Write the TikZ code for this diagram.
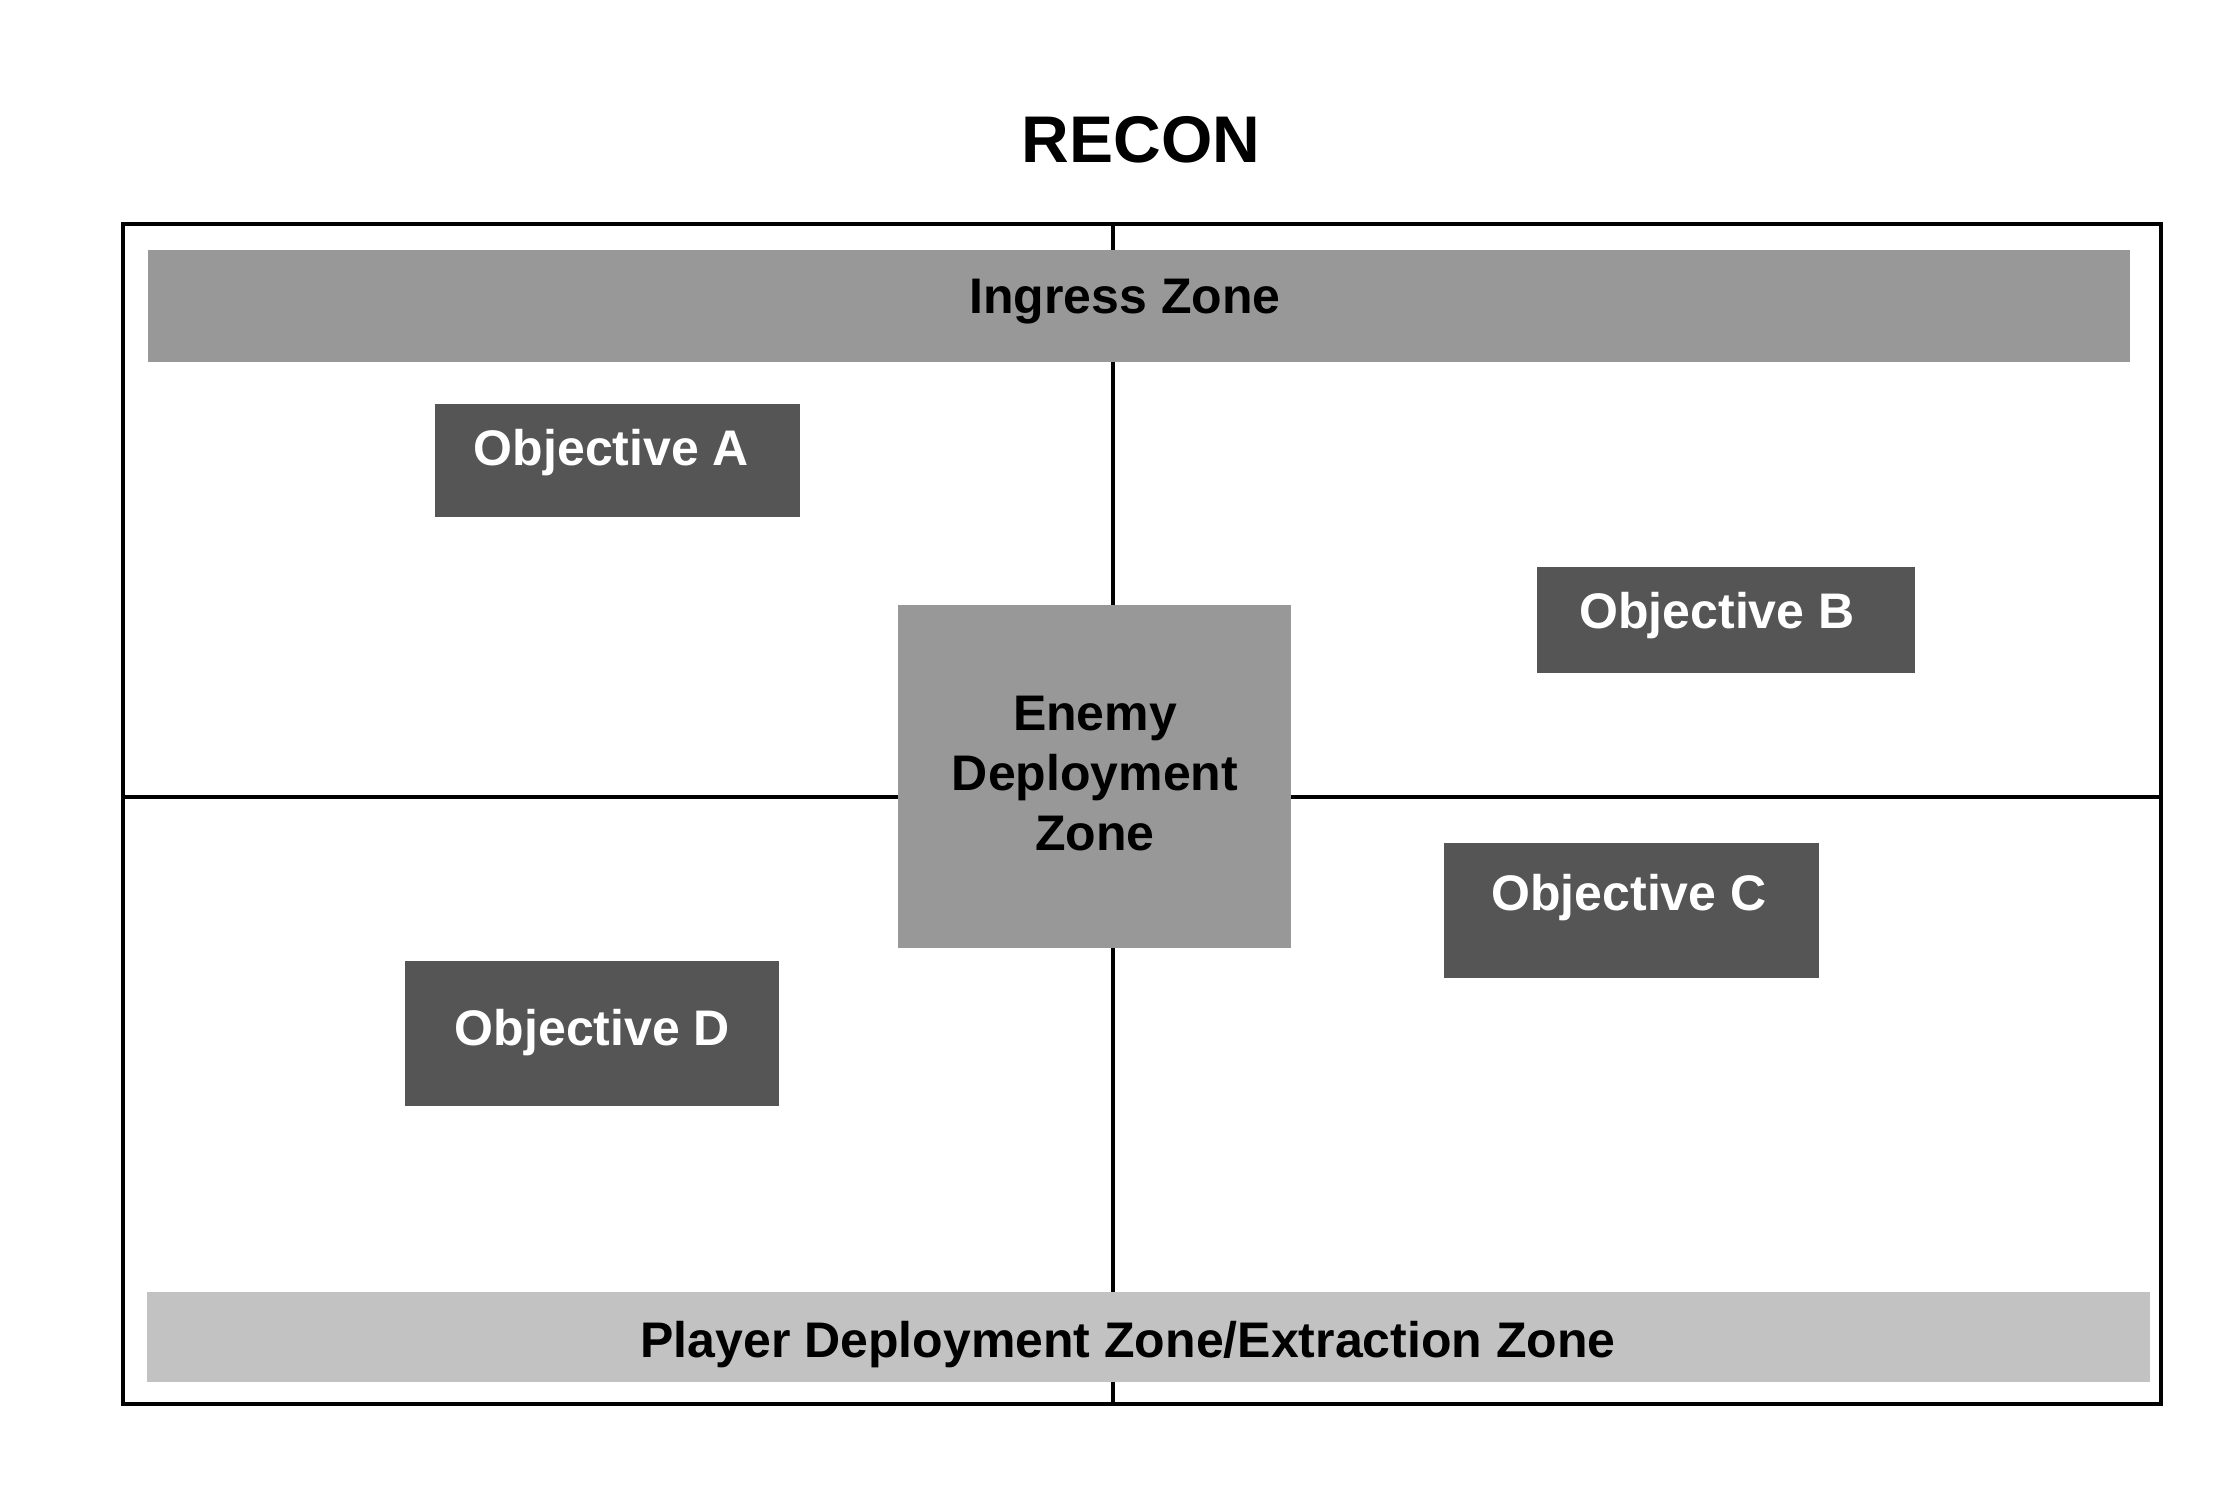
\documentclass[tikz,border=0pt]{standalone}
\usepackage{fontspec}
\setmainfont{Liberation Sans}
\definecolor{zonegray}{HTML}{989898}
\definecolor{objgray}{HTML}{555555}
\definecolor{playergray}{HTML}{C2C2C2}
\begin{document}
\begin{tikzpicture}[x=1pt,y=-1pt,
  frameline/.style={line width=4.5pt,black},
  zonebox/.style={rectangle,fill=zonegray,draw=none,inner sep=0pt,outer sep=0pt},
  objbox/.style={rectangle,fill=objgray,draw=none,inner sep=0pt,outer sep=0pt},
  playerbox/.style={rectangle,fill=playergray,draw=none,inner sep=0pt,outer sep=0pt},
  darktext/.style={anchor=base,inner sep=0pt,font=\fontsize{50}{60}\selectfont\bfseries,text=black},
  lighttext/.style={anchor=base,inner sep=0pt,font=\fontsize{50}{60}\selectfont\bfseries,text=white},
  titletext/.style={anchor=base,inner sep=0pt,font=\fontsize{66}{79}\selectfont\bfseries,text=black}]
\useasboundingbox (0,0) rectangle (2237,1499);
\fill[white] (0,0) rectangle (2237,1499);
% frame
\coordinate (tl) at (123,224);
\coordinate (br) at (2161,1404);
\coordinate (vtop) at (1113,224);
\coordinate (vbot) at (1113,1404);
\coordinate (hl) at (123,797);
\coordinate (hr) at (2161,797);
\draw[frameline] (tl) rectangle (br);
\draw[frameline] (vtop) -- (vbot);
\draw[frameline] (hl) -- (hr);
% title
\node[titletext] (title) at (1141,162) {RECON};
% zones
\node[zonebox,minimum width=1982pt,minimum height=112pt] (ingress) at (1139,306) {};
\node[darktext] (ingresstxt) at (1125,313) {Ingress Zone};
\node[playerbox,minimum width=2003pt,minimum height=90pt] (player) at (1148.5,1337) {};
\node[darktext] (playertxt) at (1128,1357) {Player Deployment Zone/Extraction Zone};
\node[zonebox,minimum width=393pt,minimum height=343pt] (enemy) at (1094.5,776.5) {};
\node[darktext,align=center] (enemytxt) at (1095,850) {Enemy\\Deployment\\Zone};
% objectives
\node[objbox,minimum width=365pt,minimum height=113pt] (obja) at (617.5,460.5) {};
\node[lighttext] (objatxt) at (611.5,465) {Objective A};
\node[objbox,minimum width=378pt,minimum height=106pt] (objb) at (1726,620) {};
\node[lighttext] (objbtxt) at (1717,628) {Objective B};
\node[objbox,minimum width=375pt,minimum height=135pt] (objc) at (1631.5,910.5) {};
\node[lighttext] (objctxt) at (1629,910) {Objective C};
\node[objbox,minimum width=374pt,minimum height=145pt] (objd) at (592,1033.5) {};
\node[lighttext] (objdtxt) at (592.5,1045) {Objective D};
\end{tikzpicture}
\end{document}
